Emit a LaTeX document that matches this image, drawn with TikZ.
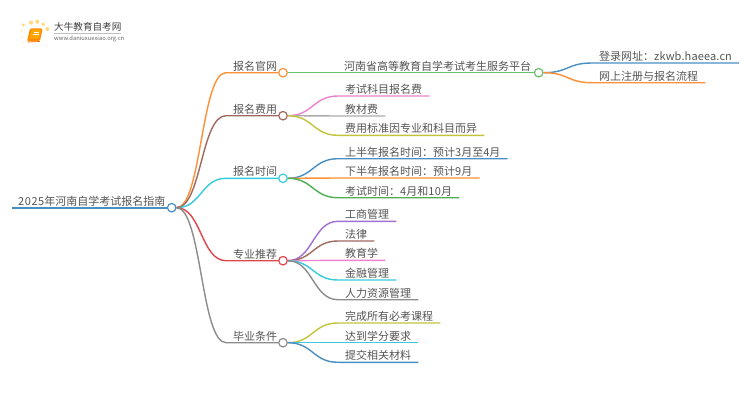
\documentclass[tikz,border=0pt]{standalone}
\usepackage{fontspec}
\setmainfont{Noto Sans CJK SC}
\definecolor{cOrange}{HTML}{FF9035}
\definecolor{cBrown}{HTML}{A0695F}
\definecolor{cCyan}{HTML}{35CBDD}
\definecolor{cRed}{HTML}{E0454B}
\definecolor{cGray}{HTML}{8C8C8C}
\definecolor{cBlue}{HTML}{4A8FC4}
\definecolor{cGreen}{HTML}{6CBF6C}
\definecolor{cGreenB}{HTML}{4CAF50}
\definecolor{cPink}{HTML}{EE82CC}
\definecolor{cOlive}{HTML}{C4C43C}
\definecolor{cPurple}{HTML}{A06FD0}
\definecolor{cLight}{HTML}{ABABAB}
\definecolor{cText}{HTML}{555555}
\definecolor{cSun}{HTML}{FFD97A}
\definecolor{cSunPale}{HTML}{FFEFC4}
\tikzset{
  lab/.style={anchor=south west,inner xsep=7pt,inner ysep=1.5pt,text=cText,font=\fontsize{11}{11}\selectfont},
  dotc/.style={circle,draw=#1,fill=white,line width=1.2pt,minimum size=8.5pt,inner sep=0pt},
  wire/.style={draw=#1,line width=1.4pt}
}
\newcommand{\wideLatin}[1]{{\addfontfeature{LetterSpace=5}#1}}
\newcommand{\leafconn}[3]{%
  \draw[wire=#1] (#2.east) .. controls ([xshift=25pt]#2.east) and ([xshift=-25pt]#3.south west) .. (#3.south west) -- (#3.south east);}
\begin{document}
\begin{tikzpicture}[x=1pt,y=-1pt]
\useasboundingbox (0,0) rectangle (750,410);
\fill[white] (0,0) rectangle (750,410);
% logo
\fill[cSun] (23.3,25) circle (1.7) (31,22.7) circle (2) (37.3,21.7) circle (2) (43.3,24.3) circle (1.9) (47.3,29) circle (2);
\fill[cSunPale] (21.7,30.7) circle (1.4) (22,36.7) circle (1.1) (23.3,42.3) circle (0.9);
\fill[orange!90!yellow,rounded corners=1.5pt] (30,28.3) -- (42.7,28.3) -- (40,41) -- (27,41.5) -- cycle;
\fill[orange!70!yellow] (31.5,29.5) -- (41,29.5) -- (39,38.5) -- (29.5,38.5) -- cycle;
\draw[orange!80!red,line width=.7pt] (27.3,42) -- (40,41.5);
\draw[white,line width=.5pt] (33.5,32) -- (39,32) (33,34) -- (38.5,34);
\node[anchor=west,inner sep=0pt,text=black!75,font=\fontsize{9.6}{10}\selectfont] (logotitle) at (54,27) {大牛教育自考网};
\draw[black!25,line width=.5pt] (54,33.5) -- (121,33.5);
\node[anchor=west,inner sep=0pt,text=black!60,font=\fontsize{5.8}{6}\selectfont] (logourl) at (54,38.7) {www.daniuxuexiao.org.cn};
% root
\node[lab,anchor=south west,inner xsep=6pt] (root) at (12,207.7) {\wideLatin{2025}年河南自学考试报名指南};
\node[dotc=cBlue] (c0) at (171.7,207.7) {};
\draw[cBlue,line width=1.8pt] (root.south west |- c0) -- (c0.west);
% branches
\node[lab] (b1) at (226,72.7) {报名官网};
\node[lab] (b2) at (226,115.7) {报名费用};
\node[lab] (b3) at (226,178.3) {报名时间};
\node[lab] (b4) at (226,260.7) {专业推荐};
\node[lab] (b5) at (226,342.7) {毕业条件};
\node[dotc=cOrange] (c1) at (283,72.7) {};
\node[dotc=cBrown] (c2) at (283,115.7) {};
\node[dotc=cCyan] (c3) at (283,178.3) {};
\node[dotc=cRed] (c4) at (283,260.7) {};
\node[dotc=cGray] (c5) at (283,342.7) {};
\foreach \b/\c/\k in {b1/c1/cOrange,b2/c2/cBrown,b3/c3/cCyan,b4/c4/cRed,b5/c5/cGray}{
  \draw[wire=\k] (c0.east) .. controls ([xshift=25pt]c0.east) and ([xshift=-25pt]\b.south west) .. (\b.south west) -- (\c.west);
}
% level 3
\node[lab,inner xsep=6pt] (p1) at (338,72.7) {河南省高等教育自学考试考生服务平台};
\node[dotc=cGreen] (c6) at (538.7,72.7) {};
\draw[wire=cGreen] (c1.east) -- (c6.west);
\node[lab] (q1) at (592,63) {登录网址：\addfontfeature{LetterSpace=1.2}zkwb.haeea.cn};
\node[lab] (q2) at (592,82.7) {网上注册与报名流程};
\leafconn{cBlue}{c6}{q1}
\leafconn{cOrange}{c6}{q2}
\node[lab] (f1) at (338,96) {考试科目报名费};
\node[lab] (f2) at (338,116) {教材费};
\node[lab] (f3) at (338,135.3) {费用标准因专业和科目而异};
\leafconn{cPink}{c2}{f1}
\leafconn{cLight}{c2}{f2}
\leafconn{cOlive}{c2}{f3}
\node[lab] (t1) at (338,158.7) {上半年报名时间：预计\wideLatin{3}月至\wideLatin{4}月};
\node[lab] (t2) at (338,178) {下半年报名时间：预计\wideLatin{9}月};
\node[lab] (t3) at (338,197.7) {考试时间：\wideLatin{4}月和\wideLatin{10}月};
\leafconn{cBlue}{c3}{t1}
\leafconn{cOrange}{c3}{t2}
\leafconn{cGreenB}{c3}{t3}
\node[lab] (m1) at (338,221.3) {工商管理};
\node[lab] (m2) at (338,241) {法律};
\node[lab] (m3) at (338,260.3) {教育学};
\node[lab] (m4) at (338,280) {金融管理};
\node[lab] (m5) at (338,299.7) {人力资源管理};
\leafconn{cPurple}{c4}{m1}
\leafconn{cBrown}{c4}{m2}
\leafconn{cPink}{c4}{m3}
\leafconn{cCyan}{c4}{m4}
\leafconn{cGray}{c4}{m5}
\node[lab] (g1) at (338,323) {完成所有必考课程};
\node[lab] (g2) at (338,342.7) {达到学分要求};
\node[lab] (g3) at (338,362.3) {提交相关材料};
\leafconn{cOlive}{c5}{g1}
\leafconn{cCyan}{c5}{g2}
\leafconn{cBlue}{c5}{g3}
\end{tikzpicture}
\end{document}
